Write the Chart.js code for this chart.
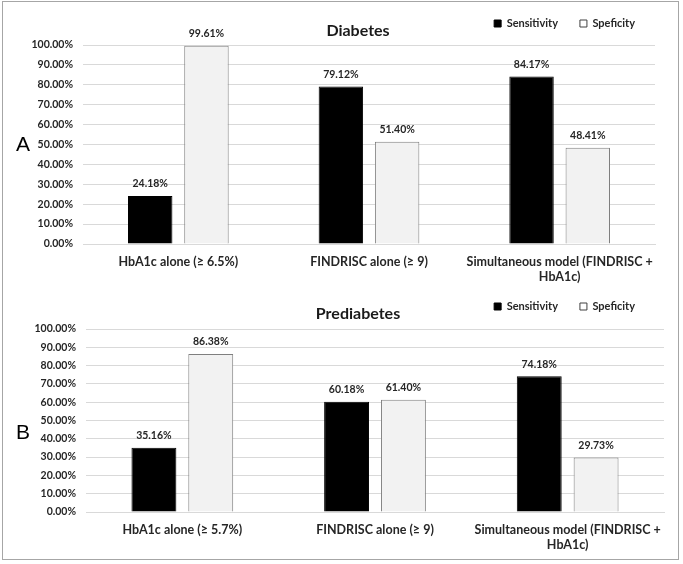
<!DOCTYPE html>
<html>
<head>
<meta charset="utf-8">
<script src="https://cdn.jsdelivr.net/npm/chart.js@4.4.1/dist/chart.umd.min.js"></script>
<style>
  html, body { margin: 0; padding: 0; background: #fff; }
  #wrap { position: relative; width: 683px; height: 564px; overflow: hidden; }
  #frame { position: absolute; left: 2px; top: 1px; width: 677px; height: 559px; border: 1px solid #a6a6a6; box-sizing: border-box; }
  .cv { position: absolute; left: 0; }
  .ttl { position: absolute; font-family: Lato, "Open Sans", sans-serif; font-weight: bold; font-size: 16px; color: #1a1a1a; transform: translate(-50%, -50%); white-space: nowrap; }
  .pl { position: absolute; font-family: "Liberation Sans", Arial, sans-serif; font-size: 21px; color: #000; transform: translate(-50%, -50%); }
</style>
</head>
<body>
<div id="wrap">
  <div id="frame"></div>
  <canvas id="cA" class="cv" style="top:0px" width="683" height="290"></canvas>
  <canvas id="cB" class="cv" style="top:284px" width="683" height="276"></canvas>
  <div class="ttl" style="left:358px; top:29px">Diabetes</div>
  <div class="ttl" style="left:358px; top:312px">Prediabetes</div>
  <div class="pl" style="left:23px; top:144px">A</div>
  <div class="pl" style="left:23px; top:432px">B</div>
</div>
<script>
const seriesNames = ["Sensitivity", "Speficity"];
const categoriesA = [["HbA1c alone (\u2265 6.5%)"], ["FINDRISC alone (\u2265 9)"], ["Simultaneous model (FINDRISC +", "HbA1c)"]];
const sensitivityA = [24.18, 79.12, 84.17];
const specificityA = [99.61, 51.40, 48.41];
const categoriesB = [["HbA1c alone (\u2265 5.7%)"], ["FINDRISC alone (\u2265 9)"], ["Simultaneous model (FINDRISC +", "HbA1c)"]];
const sensitivityB = [35.16, 60.18, 74.18];
const specificityB = [86.38, 61.40, 29.73];
const yTicks = [0, 10, 20, 30, 40, 50, 60, 70, 80, 90, 100];

const FONT = "Lato, 'Open Sans', sans-serif";
const TXT = "#262626";

const valueLabels = {
  id: "valueLabels",
  afterDatasetsDraw(chart) {
    const ctx = chart.ctx;
    ctx.save();
    ctx.font = "bold 10.5px " + FONT;
    ctx.fillStyle = TXT;
    ctx.textAlign = "center";
    ctx.textBaseline = "middle";
    chart.data.datasets.forEach((ds, di) => {
      chart.getDatasetMeta(di).data.forEach((bar, i) => {
        ctx.fillText(ds.data[i].toFixed(2) + "%", bar.x, bar.y - 12);
      });
    });
    ctx.restore();
  }
};

function legendTweak(extra, dx, dy) {
  return {
    id: "legendTweak",
    afterInit(chart) {
      const lg = chart.legend;
      if (!lg) return;
      const origFit = lg.fit.bind(lg);
      lg.fit = function () { origFit(); this.height += extra; };
      const origDraw = lg.draw.bind(lg);
      lg.draw = function () {
        const ctx = this.ctx;
        ctx.save();
        ctx.translate(dx, dy);
        origDraw();
        ctx.restore();
      };
    }
  };
}

function makeChart(id, cats, sens, spec, pad, yWidth, xHeight, extra, dx, dy) {
  new Chart(document.getElementById(id), {
    type: "bar",
    data: {
      labels: cats,
      datasets: [
        { label: seriesNames[0], data: sens, backgroundColor: "#000000", borderColor: "#000000", borderWidth: 1 },
        { label: seriesNames[1], data: spec, backgroundColor: "#f2f2f2", borderColor: "#7f7f7f", borderWidth: 1 }
      ]
    },
    options: {
      responsive: false,
      animation: false,
      devicePixelRatio: 1,
      categoryPercentage: 0.59,
      barPercentage: 0.79,
      layout: { padding: pad },
      plugins: {
        title: { display: false },
        tooltip: { enabled: false },
        legend: {
          position: "top",
          align: "end",
          labels: {
            boxWidth: 7, boxHeight: 7, padding: 22,
            color: TXT,
            font: { family: FONT, size: 11, weight: "bold" },
            generateLabels(chart) {
              return chart.data.datasets.map((ds, i) => ({
                text: ds.label,
                fillStyle: i === 0 ? "#000000" : "#ffffff",
                strokeStyle: i === 0 ? "#000000" : "#404040",
                lineWidth: 1,
                fontColor: TXT,
                datasetIndex: i,
                hidden: false
              }));
            }
          }
        }
      },
      scales: {
        x: {
          grid: { display: false, drawTicks: false },
          border: { display: true, color: "#d9d9d9", width: 1 },
          ticks: { color: TXT, padding: 10, maxRotation: 0, autoSkip: false, font: { family: FONT, size: 12.5, weight: "bold", lineHeight: 1.25 } },
          afterFit(s) { s.height = xHeight; }
        },
        y: {
          min: 0, max: 100,
          afterBuildTicks(s) { s.ticks = yTicks.map(v => ({ value: v })); },
          grid: { color: "#d9d9d9", drawTicks: false },
          border: { display: false },
          ticks: { color: TXT, padding: 10, font: { family: FONT, size: 10.5, weight: "bold" }, callback: v => v.toFixed(2) + "%" },
          afterFit(s) { s.width = yWidth; }
        }
      }
    },
    plugins: [valueLabels, legendTweak(extra, dx, dy)]
  });
}

makeChart("cA", categoriesA, sensitivityA, specificityA, { left: 30, right: 28, top: 5, bottom: 0 }, 53, 46, -3, 2, -9);
makeChart("cB", categoriesB, sensitivityB, specificityB, { left: 30, right: 19, top: 4, bottom: 0 }, 56, 48, -2, -7, -9);
</script>
</body>
</html>
